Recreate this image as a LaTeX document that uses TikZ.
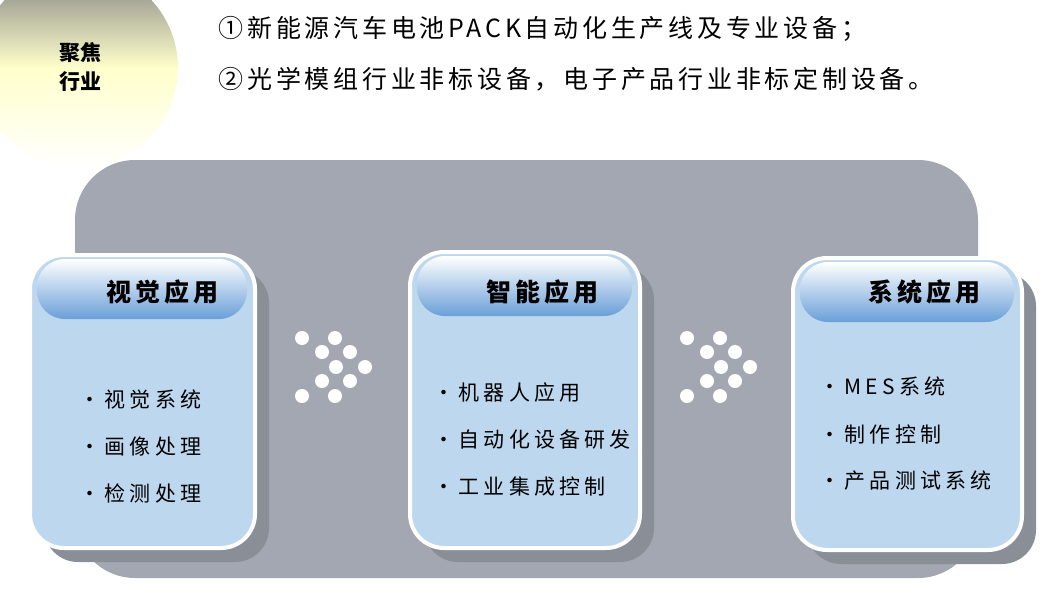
\documentclass[tikz,border=0pt]{standalone}
\usepackage{fontspec}
\setmainfont{Noto Sans CJK SC}
\newfontfamily\spA[LetterSpace=15]{Noto Sans CJK SC}
\newfontfamily\spB[LetterSpace=20]{Noto Sans CJK SC}
\newfontfamily\spC[LetterSpace=16]{Noto Sans CJK SC}
\definecolor{panel}{HTML}{A2A7B1}
\definecolor{boxfill}{HTML}{BDD7EE}
\definecolor{hdrbot}{HTML}{6A9FD8}
\definecolor{shad}{HTML}{8A8E96}
\tikzset{
 card/.style={draw=white,line width=4pt,fill=boxfill,rounded corners=34pt},
 cardshadow/.style={fill=shad,rounded corners=34pt},
 hdr/.style={rounded corners=28pt,top color=white,bottom color=hdrbot},
 hdrtext/.style={font=\spC\fontsize{25pt}{28pt}\selectfont\bfseries,anchor=center},
 item/.style={font=\spB\fontsize{21pt}{24pt}\selectfont,anchor=west},
 dot/.style={fill=white,draw=none},
 top/.style={font=\spA\fontsize{25pt}{28pt}\selectfont,anchor=west}
}
\begin{document}
\begin{tikzpicture}[x=1pt,y=-1pt]
\useasboundingbox (0,0) rectangle (1050,597);
\shade[inner color=yellow!90,outer color=white,middle color=yellow!20] (78,68) circle (100);
\node[font=\fontsize{21pt}{29pt}\selectfont\bfseries,align=center] (focus) at (80,67) {聚焦\\行业};
\node[top] (t1) at (215,29) {①新能源汽车电池PACK自动化生产线及专业设备；};
\node[top] (t2) at (215,79) {②光学模组行业非标设备，电子产品行业非标定制设备。};
\fill[panel,rounded corners=60pt] (75,160) rectangle (978,578);
\foreach \x/\y/\w/\h/\n in {30/255/225/293/a,410/252/230/296/b,793/258/229/292/c}{
 \fill[cardshadow] (\x+14,\y+14) rectangle (\x+\w+14,\y+\h+14);
 \draw[card] (\x,\y) rectangle (\x+\w,\y+\h);
 \shade[hdr] (\x+7,\y+4) rectangle (\x+\w-8,\y+64);
}
\node[hdrtext] (ha) at (162,292) {视觉应用};
\node[hdrtext] (hb) at (542,292) {智能应用};
\node[hdrtext] (hc) at (924,292) {系统应用};
\node[item] (a1) at (76,400) {•视觉系统};
\node[item] (a2) at (76,447) {•画像处理};
\node[item] (a3) at (76,493) {•检测处理};
\node[item] (b1) at (430,393) {•机器人应用};
\node[item] (b2) at (430,440) {•自动化设备研发};
\node[item] (b3) at (430,487) {•工业集成控制};
\node[item] (c1) at (816,386) {•MES系统};
\node[item] (c2) at (816,434) {•制作控制};
\node[item] (c3) at (816,481) {•产品测试系统};
\foreach \dx in {0,385}{
 \foreach \px/\py in {302/338,335/338,322/352,350/352,336/367,365/367,322/381,350/381,302/396,335/396}
  \fill[dot] (\px+\dx,\py) circle (7);
}
\end{tikzpicture}
\end{document}
